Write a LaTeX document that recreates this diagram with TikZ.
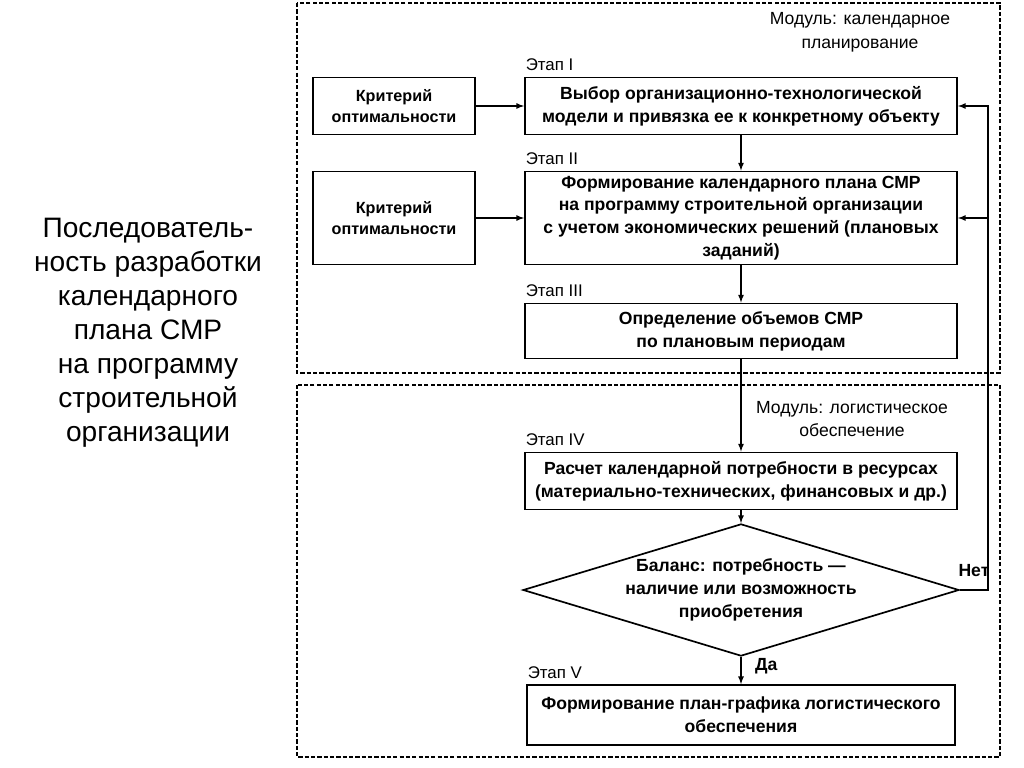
\documentclass[tikz,border=0pt]{standalone}
\usepackage{fontspec}
\setmainfont{Liberation Sans}
\usetikzlibrary{arrows, shapes.geometric, positioning, calc}

\begin{document}
\begin{tikzpicture}[x=0.025cm, y=-0.025cm, >=latex]
\tikzstyle{stage}=[draw, line width=1.2pt, minimum width=10.8cm, align=center, inner sep=1mm,
  font=\bfseries\fontsize{12.5}{16.2}\selectfont]
\tikzstyle{crit}=[stage, minimum width=4.05cm, font=\bfseries\fontsize{11.5}{15.5}\selectfont]
\tikzstyle{etap}=[inner sep=1pt, font=\fontsize{12}{14}\selectfont]
\tikzstyle{module}=[align=center, inner sep=1pt, font=\fontsize{12.5}{17}\selectfont]
\tikzstyle{flow}=[->, line width=0.9pt]
\tikzstyle{frame}=[line width=1pt, dash pattern=on 3pt off 1.5pt]

\useasboundingbox[fill=white] (0,0) rectangle (1024,768);

% left title
\node[align=center, font=\fontsize{20}{24.2}\selectfont] (title) at (148,333)
  {Последователь-\\ность разработки\\календарного\\плана СМР\\на программу\\строительной\\организации};

% module frames
\draw[frame] (297,3) rectangle (1000,373);
\draw[frame] (297,385) rectangle (1000,757);

\node[module] (mod1) at (860,32) {Модуль: календарное\\планирование};
\node[module] (mod2) at (852,419) {Модуль: логистическое\\обеспечение};

% stages
\node[stage, minimum height=1.42cm] (s1) at (741,106)
  {Выбор организационно-технологической\\модели и привязка ее к конкретному объекту};
\node[stage, minimum height=2.33cm] (s2) at (741,218)
  {Формирование календарного плана СМР\\на программу строительной организации\\с учетом экономических решений (плановых\\заданий)};
\node[stage, minimum height=1.38cm] (s3) at (741,331)
  {Определение объемов СМР\\по плановым периодам};
\node[stage, minimum height=1.43cm] (s4) at (741,481)
  {Расчет календарной потребности в ресурсах\\(материально-технических, финансовых и др.)};
\node[diamond, draw, line width=1.2pt, aspect=3.3, minimum width=10.7cm, minimum height=3.25cm,
  inner sep=0pt, align=center, font=\bfseries\fontsize{12.5}{16.2}\selectfont] (bal) at (741,590)
  {Баланс: потребность ---\\наличие или возможность\\приобретения};
\node[stage, minimum width=10.7cm, minimum height=1.5cm] (s5) at (741,715)
  {Формирование план-графика логистического\\обеспечения};

\node[crit, minimum height=1.42cm] (k1) at (394,106) {Критерий\\оптимальности};
\node[crit, minimum height=2.33cm] (k2) at (394,218) {Критерий\\оптимальности};

% stage labels
\node[etap, above right = 1mm and 0mm of s1.north west, anchor=south west] (e1) {Этап I};
\node[etap, above right = 1mm and 0mm of s2.north west, anchor=south west] (e2) {Этап II};
\node[etap, above right = 1mm and 0mm of s3.north west, anchor=south west] (e3) {Этап III};
\node[etap, above right = 1mm and 0mm of s4.north west, anchor=south west] (e4) {Этап IV};
\node[etap, above right = 1mm and 0mm of s5.north west, anchor=south west] (e5) {Этап V};

% connectors
\coordinate (fb) at (988,0);
\draw[flow] (k1) -- (s1);
\draw[flow] (k2) -- (s2);
\draw[flow] (s1) -- (s2);
\draw[flow] (s2) -- (s3);
\draw[flow] (s3) -- (s4);
\draw[flow] (s4) -- (bal);
\draw[flow] (bal) -- node[etap, right=3mm, pos=0.35, font=\bfseries\fontsize{12.5}{14}\selectfont] {Да} (s5);
\draw[flow] (bal.east) -- node[etap, above=8pt, font=\bfseries\fontsize{12.5}{14}\selectfont] {Нет} (fb |- bal.east)
  |- (s1.east);
\draw[flow] (fb |- s2.east) -- (s2.east);
\end{tikzpicture}
\end{document}
